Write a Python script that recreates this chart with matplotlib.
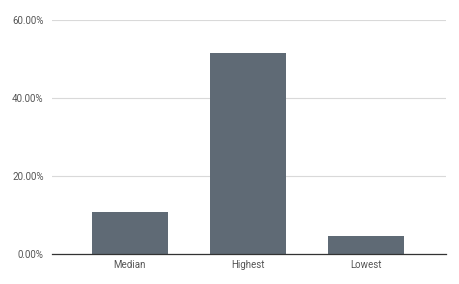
import matplotlib
matplotlib.use('Agg')
import matplotlib.pyplot as plt
from matplotlib.ticker import FuncFormatter

categories = ['Median', 'Highest', 'Lowest']
values = [10.7, 51.5, 4.6]
yticks = [0, 20, 40, 60]

plt.rcParams['font.family'] = ['Roboto', 'DejaVu Sans']

fig = plt.figure(figsize=(4.6, 2.84), dpi=100)
ax = fig.add_axes([0.113, 0.1056, 0.857, 0.8257])

x = range(len(categories))
ax.bar(x, values, width=0.645, color='#5f6a75', zorder=3)

ax.set_xlim(-0.66, 2.68)
ax.set_ylim(0, 60)
ax.set_yticks(yticks)
ax.yaxis.set_major_formatter(FuncFormatter(lambda v, p: f'{v:.2f}%'))
ax.set_xticks(list(x))
ax.set_xticklabels(categories)

ax.grid(axis='y', color='#d9d9d9', linewidth=0.8, zorder=0)
for s in ['top', 'right', 'left']:
    ax.spines[s].set_visible(False)
ax.spines['bottom'].set_color('#333333')
ax.spines['bottom'].set_linewidth(0.9)
ax.spines['bottom'].set_zorder(4)
ax.tick_params(axis='both', length=0, labelsize=7, labelcolor='#555555')
ax.tick_params(axis='y', pad=6)
ax.tick_params(axis='x', pad=4)

fig.savefig('out.png', dpi=100)
